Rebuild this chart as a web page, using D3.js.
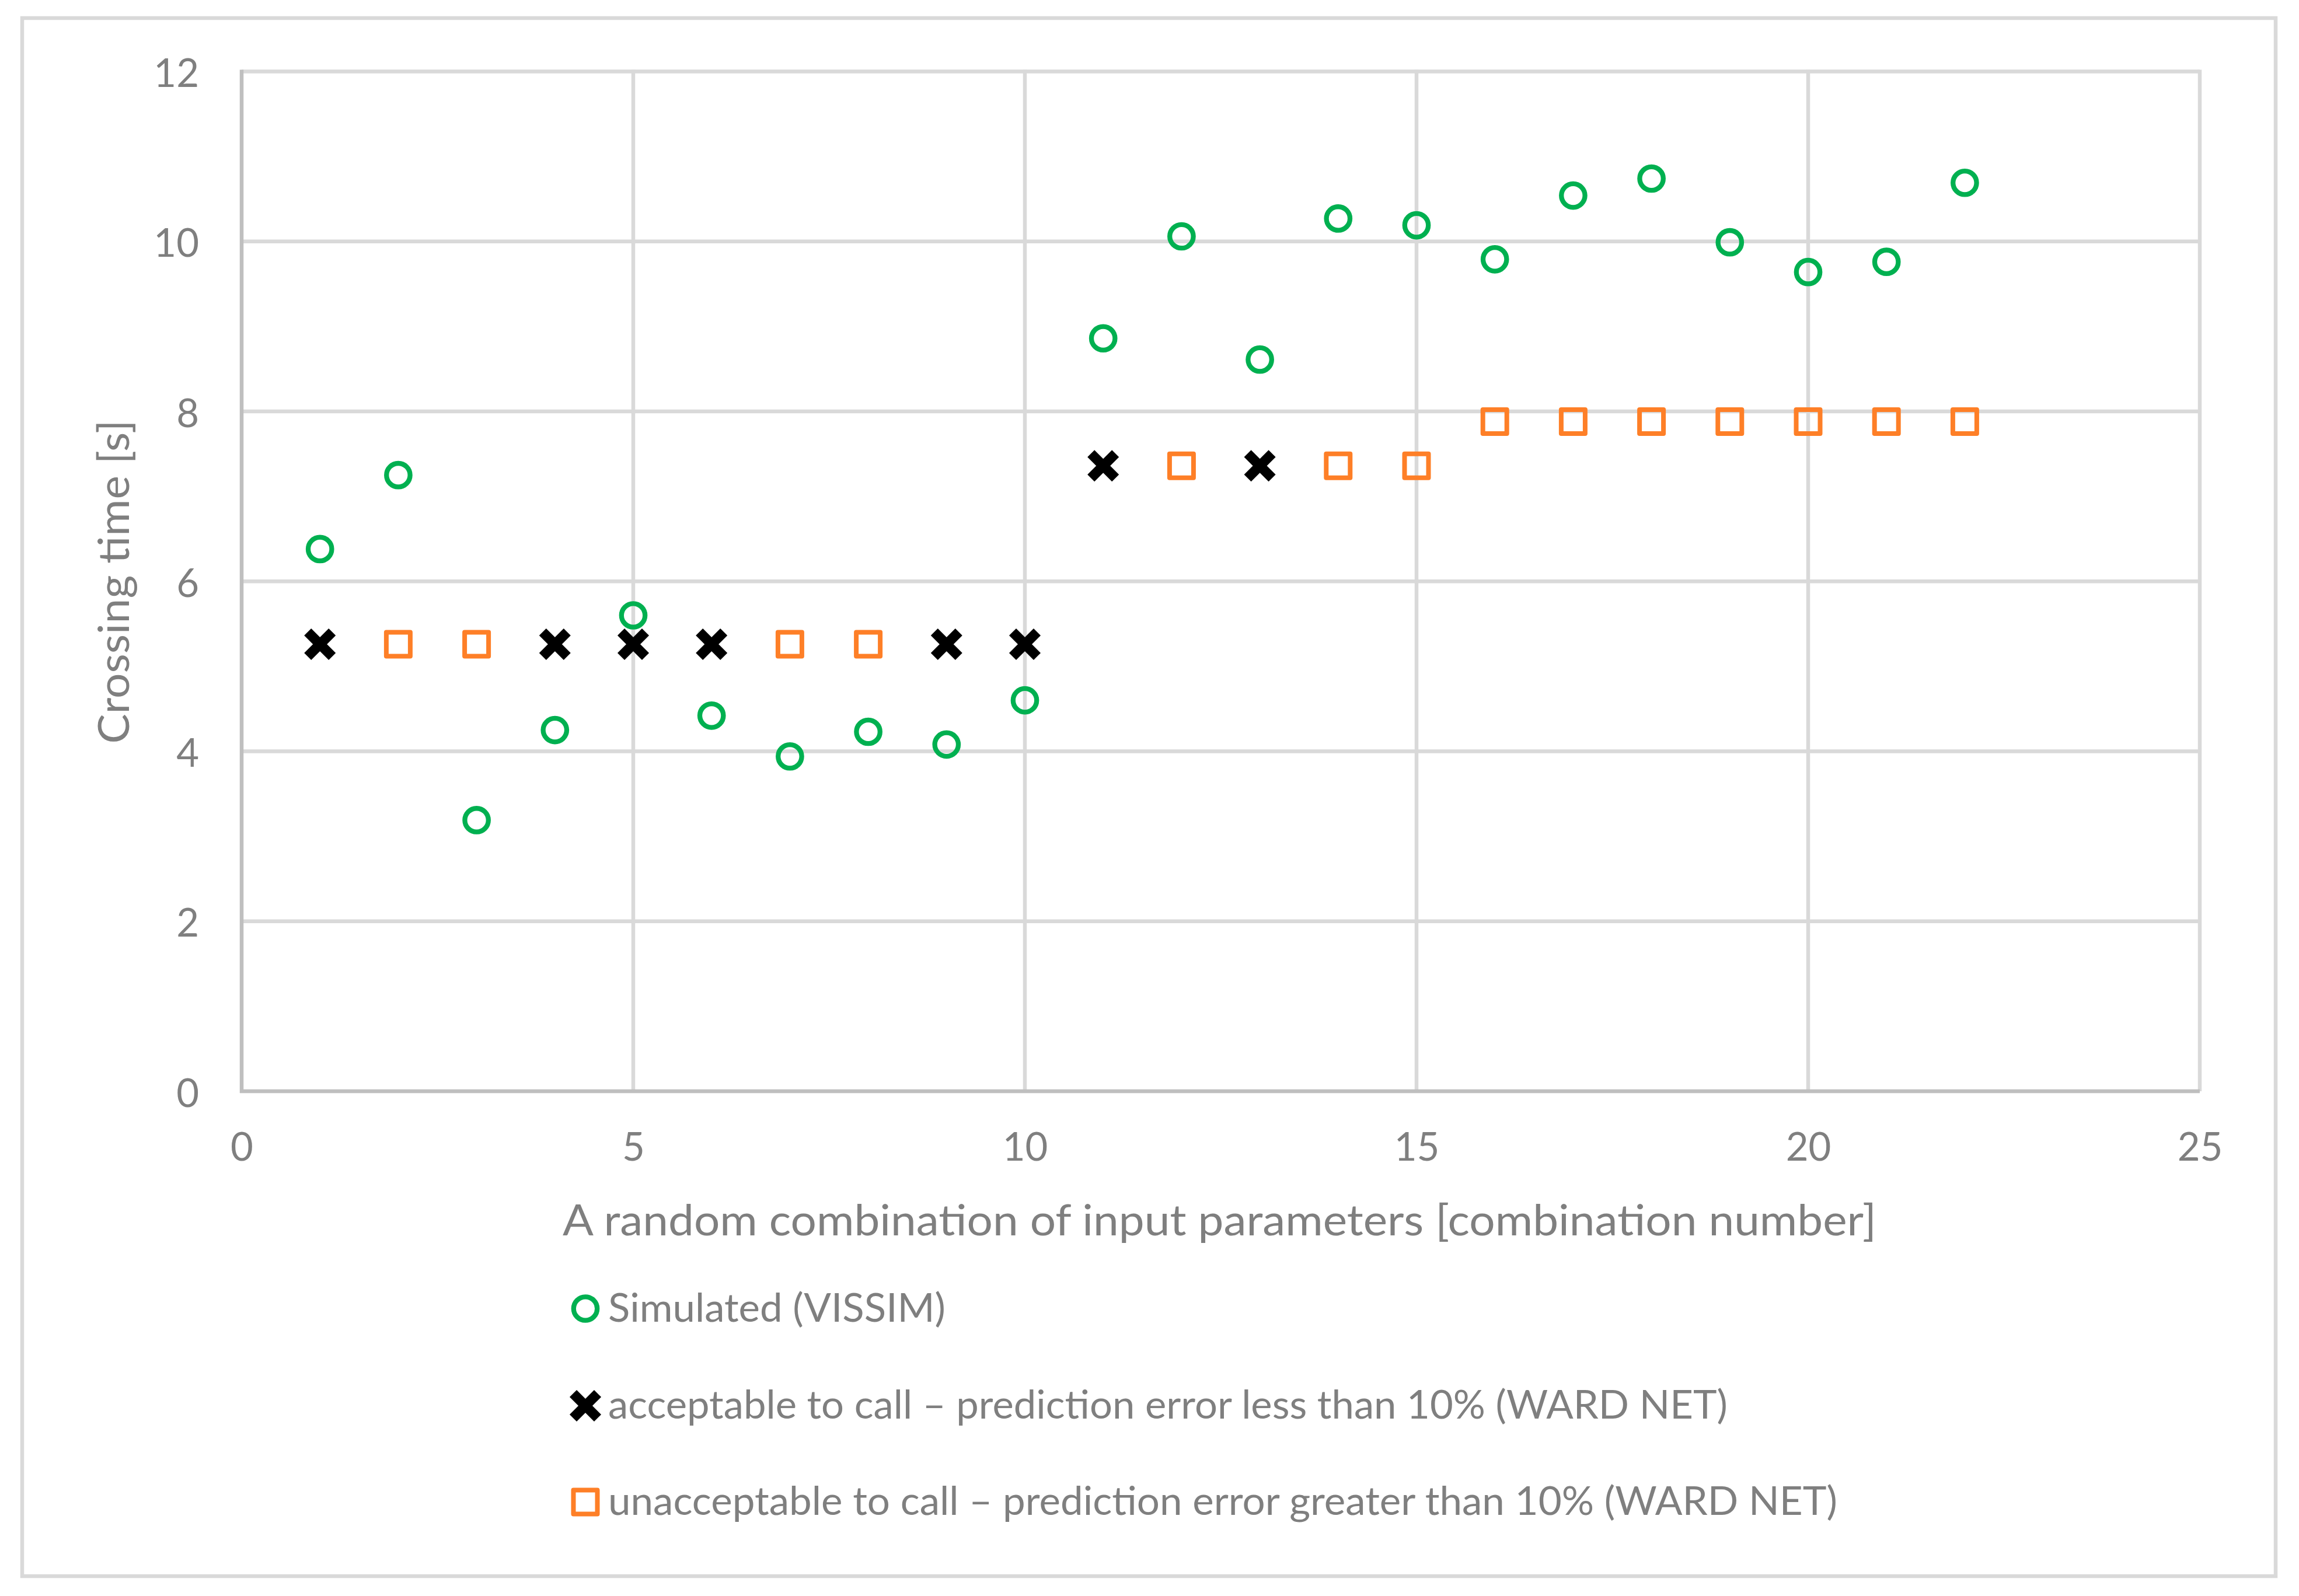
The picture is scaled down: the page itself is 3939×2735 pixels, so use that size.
<!DOCTYPE html>
<html>
<head>
<meta charset="utf-8">
<script src="https://cdn.jsdelivr.net/npm/d3@7"></script>
<style>
  html, body { margin: 0; padding: 0; background: #ffffff; }
  svg { display: block; }
  text { font-family: Lato, "Open Sans", "Liberation Sans", sans-serif; fill: #7f7f7f; }
</style>
</head>
<body>
<script>
// ---------------- data ----------------
const combinations = [1,2,3,4,5,6,7,8,9,10,11,12,13,14,15,16,17,18,19,20,21,22];
const simulatedValues = [6.38,7.25,3.19,4.25,5.60,4.42,3.94,4.23,4.08,4.60,8.86,10.06,8.61,10.27,10.19,9.79,10.54,10.74,9.99,9.64,9.76,10.69];

const acceptableCombos = [1,4,5,6,9,10,11,13];
const acceptableValues = [5.26,5.26,5.26,5.26,5.26,5.26,7.36,7.36];

const unacceptableCombos = [2,3,7,8,12,14,15,16,17,18,19,20,21,22];
const unacceptableValues = [5.26,5.26,5.26,5.26,7.36,7.36,7.36,7.88,7.88,7.88,7.88,7.88,7.88,7.88];

const xTicks = [0,5,10,15,20,25];
const yTicks = [0,2,4,6,8,10,12];

const xTitle = "A random combination of input parameters [combination number]";
const yTitle = "Crossing time [s]";
const legendLabels = [
  "Simulated (VISSIM)",
  "acceptable to call \u2013 prediction error less than 10% (WARD NET)",
  "unacceptable to call \u2013 prediction error greater than 10% (WARD NET)"
];

// ---------------- layout ----------------
const W = 3939, H = 2735;
const plot = { left: 414, right: 3769, top: 122.5, bottom: 1870 };
const COL = { green: "#00b050", black: "#000000", orange: "#fe7f27", grid: "#d9d9d9", axis: "#bfbfbf", text: "#7f7f7f" };

const svg = d3.select("body").append("svg").attr("width", W).attr("height", H);

// outer chart border
svg.append("rect").attr("x", 38).attr("y", 31).attr("width", 3861).attr("height", 2670)
  .attr("fill", "#ffffff").attr("stroke", COL.grid).attr("stroke-width", 6.5);

const x = d3.scaleLinear().domain([0, 25]).range([plot.left, plot.right]);
const y = d3.scaleLinear().domain([0, 12]).range([plot.bottom, plot.top]);

// gridlines
const g = svg.append("g");
g.selectAll(".hgrid").data(yTicks.filter(d => d !== 0)).enter().append("line")
  .attr("x1", plot.left).attr("x2", plot.right)
  .attr("y1", d => y(d)).attr("y2", d => y(d))
  .attr("stroke", COL.grid).attr("stroke-width", 6.5);
g.selectAll(".vgrid").data(xTicks.filter(d => d !== 0)).enter().append("line")
  .attr("x1", d => x(d)).attr("x2", d => x(d))
  .attr("y1", plot.top - 3).attr("y2", plot.bottom)
  .attr("stroke", COL.grid).attr("stroke-width", 6.5);

// axes via d3 axis generators (styled)
const yAxis = d3.axisLeft(y).tickValues(yTicks).tickSize(0).tickPadding(73).tickFormat(d3.format("d"));
const xAxis = d3.axisBottom(x).tickValues(xTicks).tickSize(0).tickPadding(0).tickFormat(d3.format("d"));

const yg = svg.append("g").attr("transform", `translate(${plot.left},0)`).call(yAxis);
yg.selectAll("text").attr("font-size", 67).attr("fill", COL.text)
  .attr("dy", null).attr("dominant-baseline", "central").style("font-family", "Lato, sans-serif");
yg.select(".domain").remove();

const xg = svg.append("g").attr("transform", `translate(0,${plot.bottom})`).call(xAxis);
xg.selectAll("text").attr("font-size", 67).attr("fill", COL.text)
  .attr("y", 119).attr("dy", null).style("font-family", "Lato, sans-serif");
xg.select(".domain").remove();

// axis lines
svg.append("line").attr("x1", plot.left).attr("x2", plot.left).attr("y1", plot.top - 3).attr("y2", plot.bottom + 3)
  .attr("stroke", COL.axis).attr("stroke-width", 6.5);
svg.append("line").attr("x1", plot.left - 3).attr("x2", plot.right).attr("y1", plot.bottom).attr("y2", plot.bottom)
  .attr("stroke", COL.axis).attr("stroke-width", 6.5);

// ---------------- markers ----------------
const CIRCLE_R = 20.2, CIRCLE_SW = 8.3;
const SQ = 41, SQ_SW = 8;
const xPath = "M-21,-21L21,21M21,-21L-21,21";

function drawCircle(sel) {
  sel.append("circle").attr("r", CIRCLE_R).attr("fill", "none")
    .attr("stroke", COL.green).attr("stroke-width", CIRCLE_SW);
}
function drawSquare(sel) {
  sel.append("rect").attr("x", -SQ / 2).attr("y", -SQ / 2).attr("width", SQ).attr("height", SQ)
    .attr("fill", "none").attr("stroke", COL.orange).attr("stroke-width", SQ_SW)
    .attr("stroke-linejoin", "round");
}
function drawX(sel) {
  sel.append("path").attr("d", xPath).attr("fill", "none")
    .attr("stroke", COL.black).attr("stroke-width", 17).attr("stroke-linecap", "butt");
}

const simData = combinations.map((c, i) => ({ c, v: simulatedValues[i] }));
const accData = acceptableCombos.map((c, i) => ({ c, v: acceptableValues[i] }));
const unaccData = unacceptableCombos.map((c, i) => ({ c, v: unacceptableValues[i] }));

svg.append("g").selectAll("g").data(simData).enter().append("g")
  .attr("transform", d => `translate(${x(d.c)},${y(d.v)})`).call(drawCircle);
svg.append("g").selectAll("g").data(accData).enter().append("g")
  .attr("transform", d => `translate(${x(d.c)},${y(d.v)})`).call(drawX);
svg.append("g").selectAll("g").data(unaccData).enter().append("g")
  .attr("transform", d => `translate(${x(d.c)},${y(d.v)})`).call(drawSquare);

// ---------------- titles ----------------
svg.append("text").attr("x", 964).attr("y", 2117)
  .attr("font-size", 74).attr("textLength", 2251).attr("lengthAdjust", "spacingAndGlyphs")
  .text(xTitle);

svg.append("text").attr("transform", `translate(221,${997}) rotate(-90)`)
  .attr("text-anchor", "middle").attr("font-size", 74)
  .attr("textLength", 555).attr("lengthAdjust", "spacingAndGlyphs")
  .text(yTitle);

// ---------------- legend ----------------
const legendItems = [
  { label: legendLabels[0], draw: drawCircle, my: 2242.5, base: 2265, w: 578 },
  { label: legendLabels[1], draw: drawX, my: 2409, base: 2431, w: 1918 },
  { label: legendLabels[2], draw: drawSquare, my: 2574, base: 2596, w: 2106 }
];
const lg = svg.append("g");
legendItems.forEach(it => {
  lg.append("g").attr("transform", `translate(1003,${it.my})`).call(it.draw);
  lg.append("text").attr("x", 1042).attr("y", it.base)
    .attr("font-size", 67).attr("textLength", it.w).attr("lengthAdjust", "spacingAndGlyphs")
    .text(it.label);
});
</script>
</body>
</html>
